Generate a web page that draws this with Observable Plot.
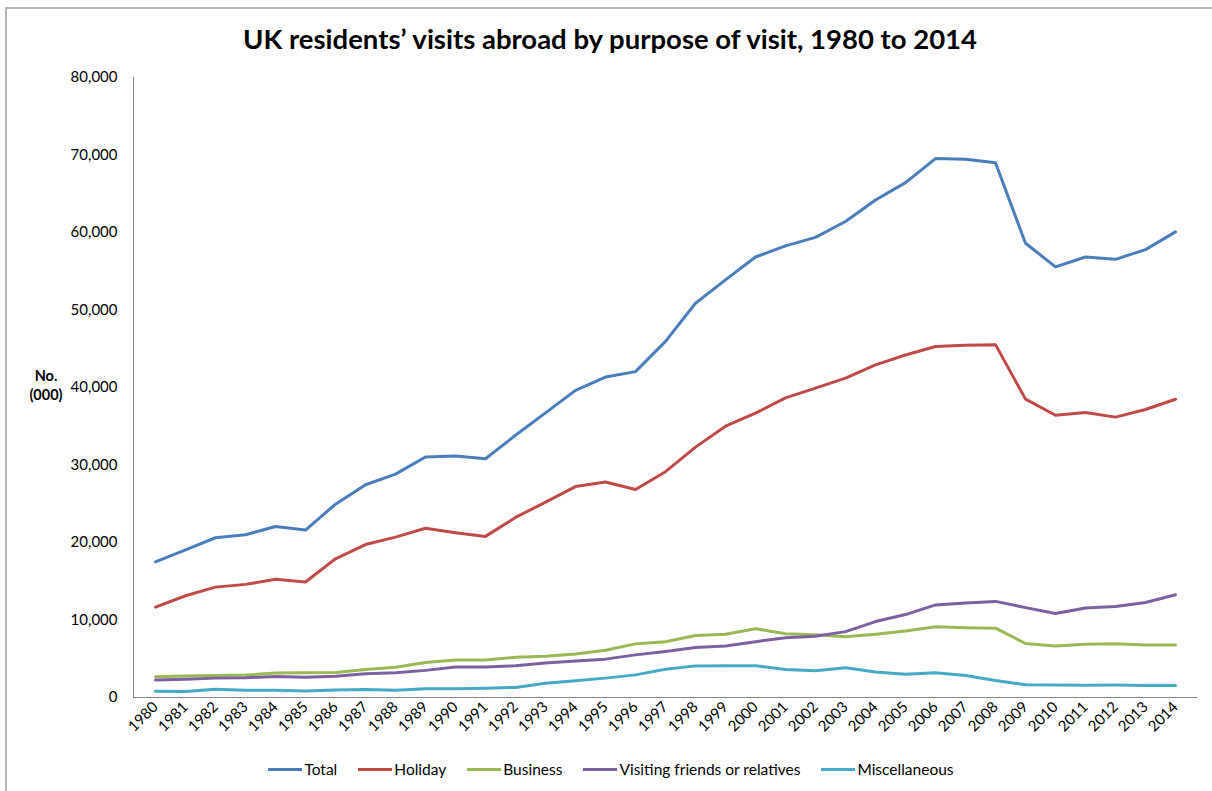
<!DOCTYPE html>
<html>
<head>
<meta charset="utf-8">
<script src="https://cdn.jsdelivr.net/npm/d3@7"></script>
<script src="https://cdn.jsdelivr.net/npm/@observablehq/plot@0.6"></script>
<style>
  html, body { margin: 0; padding: 0; background: #fff; }
  #chart { position: relative; width: 1212px; height: 791px; overflow: hidden; font-family: Lato, "Open Sans", sans-serif; }
  #border { position: absolute; left: 5px; top: 7px; width: 1220px; height: 800px; border-top: 2px solid #b4b4b4; border-left: 2px solid #b4b4b4; box-sizing: border-box; }
  #title { position: absolute; left: 0; top: 22px; width: 1220px; text-align: center; font-weight: bold; font-size: 27.5px; color: #000; }
  #ylabel { position: absolute; left: 21px; top: 366px; width: 50px; text-align: center; font-weight: bold; font-size: 14.5px; line-height: 19px; color: #000; }
  #plot { position: absolute; left: 0; top: 0; }
  #legend { position: absolute; left: 0; top: 760px; width: 1222px; display: flex; justify-content: center; gap: 21px; font-size: 15.5px; color: #000; }
  .item { display: flex; align-items: center; gap: 2px; }
  .sw { width: 34px; height: 3px; }
</style>
</head>
<body>
<div id="chart">
  <div id="border"></div>
  <div id="title">UK residents’ visits abroad by purpose of visit, 1980 to 2014</div>
  <div id="ylabel">No.<br>(000)</div>
  <div id="plot"></div>
  <div id="legend"></div>
</div>
<script>
const years = ["1980","1981","1982","1983","1984","1985","1986","1987","1988","1989","1990","1991","1992","1993","1994","1995","1996","1997","1998","1999","2000","2001","2002","2003","2004","2005","2006","2007","2008","2009","2010","2011","2012","2013","2014"];
const total = [17507,19046,20611,20994,22072,21610,24949,27447,28828,31030,31150,30808,33836,36720,39630,41345,42050,45957,50872,53881,56837,58281,59377,61424,64194,66441,69536,69450,69011,58614,55562,56836,56538,57792,60082];
const holiday = [11666,13131,14242,14596,15250,14898,17896,19738,20691,21836,21270,20788,23232,25199,27215,27809,26834,29138,32306,35011,36685,38670,39916,41200,42911,44189,45287,45446,45531,38503,36421,36786,36178,37165,38482];
const business = [2686,2775,2829,2890,3148,3188,3228,3599,3905,4506,4828,4843,5188,5336,5605,6108,6919,7182,7996,8150,8880,8225,8091,7850,8148,8590,9116,9011,8943,6966,6650,6862,6938,6761,6790];
const vfr = [2250,2350,2500,2550,2700,2600,2750,3050,3200,3500,3950,3950,4100,4450,4700,4950,5500,5950,6450,6650,7200,7700,7900,8500,9800,10700,11950,12200,12400,11600,10850,11550,11750,12250,13250];
const misc = [810,780,1070,950,950,850,980,1030,920,1120,1120,1200,1300,1850,2150,2500,2920,3650,4080,4100,4100,3600,3450,3830,3300,3000,3180,2850,2200,1650,1600,1580,1600,1560,1550];
const seriesNames = ["Total","Holiday","Business","Visiting friends or relatives","Miscellaneous"];
const seriesColors = ["#4a7ebb","#be4b48","#98b954","#7d60a0","#46aac5"];
const yTicks = [0,10000,20000,30000,40000,50000,60000,70000,80000];

const seriesValues = [total, holiday, business, vfr, misc];
const data = [];
seriesNames.forEach((name, i) => {
  years.forEach((yr, j) => data.push({series: name, year: yr, value: seriesValues[i][j]}));
});

const plot = Plot.plot({
  width: 1212,
  height: 750,
  marginTop: 77,
  marginBottom: 53,
  marginLeft: 133,
  marginRight: 15,
  style: {fontFamily: "Lato, 'Open Sans', sans-serif", fontSize: "15px", color: "#000", background: "transparent", overflow: "visible"},
  x: {type: "point", domain: years, padding: 0.5, label: null, tickRotate: -45, tickSize: 0, tickPadding: 7},
  y: {domain: [0, 80000], ticks: yTicks, tickFormat: d3.format(","), label: null, tickSize: 0, tickPadding: 16},
  color: {domain: seriesNames, range: seriesColors},
  marks: [
    Plot.frame({anchor: "left", stroke: "#868686"}),
    Plot.ruleY([0], {stroke: "#868686"}),
    Plot.line(data, {x: "year", y: "value", z: "series", stroke: "series", strokeWidth: 3, strokeLinejoin: "round", strokeLinecap: "round"})
  ]
});
document.getElementById("plot").appendChild(plot);

const legend = document.getElementById("legend");
seriesNames.forEach((name, i) => {
  const item = document.createElement("div");
  item.className = "item";
  const sw = document.createElement("div");
  sw.className = "sw";
  sw.style.background = seriesColors[i];
  const lab = document.createElement("span");
  lab.textContent = name;
  item.appendChild(sw);
  item.appendChild(lab);
  legend.appendChild(item);
});
</script>
</body>
</html>
